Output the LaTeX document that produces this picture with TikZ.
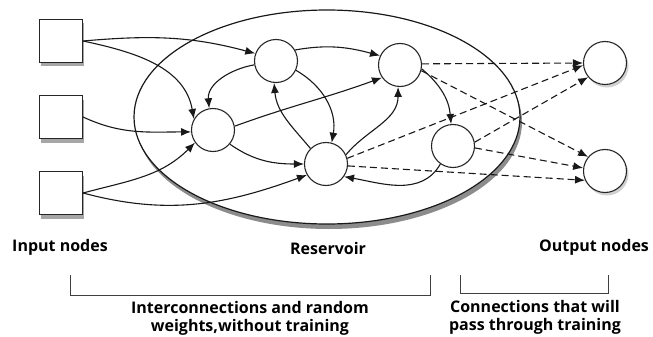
\documentclass[tikz,border=0pt]{standalone}
\usepackage{fontspec}
\setmainfont{Open Sans}
\usetikzlibrary{arrows.meta,shapes.geometric}
\tikzset{
  inbox/.style={draw=black!85,line width=1.1pt,fill=white,minimum size=43pt,inner sep=0pt},
  unit/.style={circle,draw=black!85,line width=1.1pt,fill=white,minimum size=43pt,inner sep=0pt},
  reservoir/.style={ellipse,draw=black!90,line width=1.2pt,fill=white,minimum width=386pt,minimum height=214pt},
  link/.style={draw=black!90,line width=1.1pt,-{Latex[length=10pt,width=8pt]}},
  readout/.style={link,dash pattern=on 7pt off 4pt},
  txt/.style={font=\bfseries\fontsize{16}{18}\selectfont,align=center,text=black},
  brace/.style={draw=black!75,line width=0.9pt}
}
\begin{document}
\begin{tikzpicture}[x=1pt,y=1pt]
\useasboundingbox (0,0) rectangle (653,-337);
% shadows
\fill[black!45] (329,-122) ellipse [x radius=193, y radius=107];
\foreach \y in {41,117,193}
  \fill[black!35] (41,-\y+17.5) rectangle (84,-\y-25.5);
\foreach \x/\y in {213/130,276/61,400/65,326/164,453/146,605/63,605/171}
  \fill[black!18] (\x+2,-\y-3) circle [radius=21.5];
\node[reservoir] (res) at (327,-117) {};
% input nodes
\node[inbox] (in1) at (61,-41) {};
\node[inbox] (in2) at (61,-117) {};
\node[inbox] (in3) at (61,-193) {};
% reservoir units
\node[unit] (a) at (213,-130) {};
\node[unit] (b) at (276,-61) {};
\node[unit] (c) at (400,-65) {};
\node[unit] (d) at (326,-164) {};
\node[unit] (e) at (453,-146) {};
% output nodes
\node[unit] (o1) at (605,-63) {};
\node[unit] (o2) at (605,-171) {};
% inputs into the reservoir
\draw[link] (in1.east) to[out=5,in=165] (b.160);
\draw[link] (in1.east) to[out=-12,in=100] (a.150);
\draw[link] (in2.east) to[out=-25,in=180] (a.185);
\draw[link] (in3.east) to[out=15,in=225] (a.215);
\draw[link] (in3.east) to[out=-15,in=200] (d.210);
% inside the reservoir
\draw[link] (b.190) to[out=190,in=95] (a.100);
\draw[link] (a.-40) to[out=-35,in=180] (d.180);
\draw[link] (d.135) to[out=130,in=-85] (b.-95);
\draw[link] (a.10) to[out=20,in=200] (c.215);
\draw[link] (b.30) to[out=10,in=165] (c.155);
\draw[link] (b.-25) to[out=-30,in=80] (d.75);
\draw[link] (d.25) to[out=50,in=-90] (c.-95);
\draw[link] (c.-10) to[out=-40,in=95] (e.95);
\draw[link] (e.-125) to[out=-120,in=-10] (d.-35);
% trained readout
\draw[readout] (c.3) -- (o1.180);
\draw[readout] (c.-15) -- (o2.140);
\draw[readout] (d.15) -- (o1.186);
\draw[readout] (d.-5) -- (o2.205);
\draw[readout] (e.10) -- (o1.220);
\draw[readout] (e.-5) -- (o2.172);
% labels
\node[txt] (lin) at (60,-247) {Input nodes};
\node[txt] (lres) at (328,-248) {Reservoir};
\node[txt] (lout) at (594,-247) {Output nodes};
\draw[brace] (70,-275) |- (430,-295) -- (430,-275);
\draw[brace] (460,-275) |- (608,-293) -- (608,-275);
\node[txt] (lfix) at (250,-318) {Interconnections and random\\weights,without training};
\node[txt] (ltrain) at (535,-317) {Connections that will\\pass through training};
\end{tikzpicture}
\end{document}
